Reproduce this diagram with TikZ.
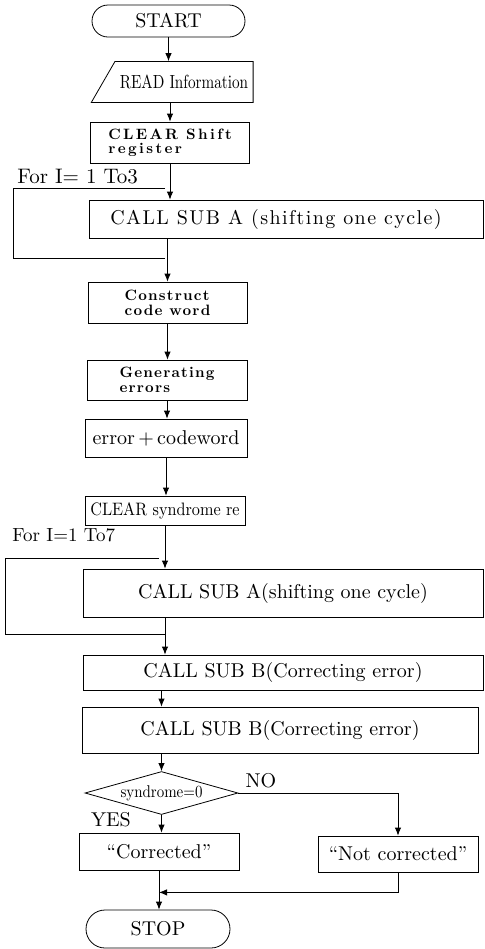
\documentclass[tikz,border=0pt]{standalone}
\usepackage{fontspec}
\setmainfont{lmroman10-regular.otf}[BoldFont=lmroman10-bold.otf]
\usetikzlibrary{shapes.geometric}
\usetikzlibrary{shapes.misc}
\usetikzlibrary{arrows.meta}
\tikzset{>={Latex[length=4pt,width=3.2pt]}, line width=0.9pt}
\newcommand{\squeeze}[2]{\scalebox{#1}[1]{#2}}
\newcommand{\spaced}[1]{\addfontfeatures{LetterSpace=#1}}

\begin{document}
\begin{tikzpicture}[x=0.5pt,y=-0.5pt,
  proc/.style={draw,rectangle,inner sep=0pt,font=\fontsize{10}{11}\selectfont},
  term/.style={draw,rounded rectangle,inner sep=0pt,font=\fontsize{10}{11}\selectfont},
  io/.style={draw,trapezium,trapezium left angle=60,trapezium right angle=90,trapezium stretches body,inner xsep=2.5pt,inner ysep=6.7pt},
  test/.style={draw,diamond,aspect=3.6,inner sep=0pt},
  tight/.style={align=left,font=\fontsize{7.5}{7.5}\selectfont\bfseries\spaced{8}},
  note/.style={inner sep=0pt,font=\fontsize{10}{11}\selectfont}]
  \useasboundingbox (0,0) rectangle (485,949);

  % main column
  \node[term,minimum width=76.5pt,minimum height=16pt] (start) at (168.5,21) {START};
  \node[io,font=\fontsize{9.5}{10}\selectfont] (read) at (184,82) {\squeeze{0.8}{READ Information}};
  \node[proc,tight,minimum width=79.5pt,minimum height=20.5pt,font=\fontsize{7.5}{7}\selectfont\bfseries\spaced{16}] (clrshift) at (170,142.5) {CLEAR Shift\\register};
  \node[proc,minimum width=197pt,minimum height=19pt,font=\fontsize{10}{11}\selectfont\spaced{7}] (subAa) at (286,219) {CALL SUB A (shifting one cycle)\hspace*{10pt}};
  \node[proc,tight,minimum width=79.5pt,minimum height=20.5pt] (construct) at (167.5,302.5) {Construct\\code word};
  \node[proc,tight,minimum width=80pt,minimum height=20pt] (generr) at (167,380) {Generating\\errors};
  \node[proc,minimum width=81pt,minimum height=19pt] (addcw) at (166,438) {error\,+\,codeword};
  \node[proc,minimum width=80pt,minimum height=14.5pt,font=\fontsize{9}{10}\selectfont] (clrsyn) at (165,510.5) {\squeeze{0.9}{CLEAR syndrome re}};
  \node[proc,minimum width=200pt,minimum height=24pt] (subAb) at (283,593) {CALL SUB A(shifting one cycle)};
  \node[proc,minimum width=200pt,minimum height=17.5pt] (subBa) at (283,672.5) {CALL SUB B(Correcting error)};
  \node[proc,minimum width=198pt,minimum height=23pt] (subBb) at (280,730) {CALL SUB B(Correcting error)};

  % decision
  \node[test,minimum width=76.5pt,minimum height=21.5pt,font=\fontsize{8.5}{9}\selectfont] (decide) at (161.5,793) {\squeeze{0.88}{syndrome=0}};
  \node[proc,minimum width=80pt,minimum height=18.5pt] (corr) at (159,851.5) {``Corrected''};
  \node[proc,minimum width=80pt,minimum height=18pt] (notcorr) at (398,854) {``Not corrected''};
  \node[term,minimum width=72pt,minimum height=19pt] (stop) at (158,929) {STOP};

  % labels
  \node[note,anchor=base west,font=\fontsize{10.5}{11}\selectfont] (forA) at (17,183) {For I= 1 To3};
  \node[note,anchor=base west,font=\fontsize{9.5}{10}\selectfont] (forB) at (12,541) {For I=1 To7};
  \node[note] (no) at (261,781) {NO};
  \node[note] (yes) at (111,820) {YES};

  % arrows
  \draw[->] (start.south) -- (start.south |- read.north);
  \draw[->] (clrshift.north |- read.south) -- (clrshift.north);
  \draw[->] (clrshift.south) -- (clrshift.south |- subAa.north);
  \draw[->] (construct.north |- subAa.south) -- (construct.north);
  \draw[->] (construct.south) -- (construct.south |- generr.north);
  \draw[->] (generr.south) -- (generr.south |- addcw.north);
  \draw[->] (addcw.south) -- (addcw.south |- clrsyn.north);
  \draw[->] (clrsyn.south) -- (clrsyn.south |- subAb.north);
  \draw[->] (clrsyn.south |- subAb.south) -- (clrsyn.south |- subBa.north);
  \draw[->] (decide.north |- subBa.south) -- (decide.north |- subBb.north);
  \draw[->] (decide.north |- subBb.south) -- (decide.north);
  \draw[->] (decide.east) -| (notcorr.north);
  \draw[->] (decide.south) -- (decide.south |- corr.north);
  \draw[->] (corr.south) -- (corr.south |- stop.north);
  \path (corr.south) ++(0,22) coordinate (merge);
  \draw[->] (notcorr.south) |- (merge);

  % loops
  \coordinate (loopAin) at (165,188);
  \coordinate (loopAout) at (165,258);
  \draw (loopAin) -| (13,258) -- (loopAout);
  \coordinate (loopBin) at (159,558);
  \coordinate (loopBout) at (clrsyn.south |- 0,634);
  \draw (loopBin) -| (5,634) -- (loopBout);
\end{tikzpicture}
\end{document}
